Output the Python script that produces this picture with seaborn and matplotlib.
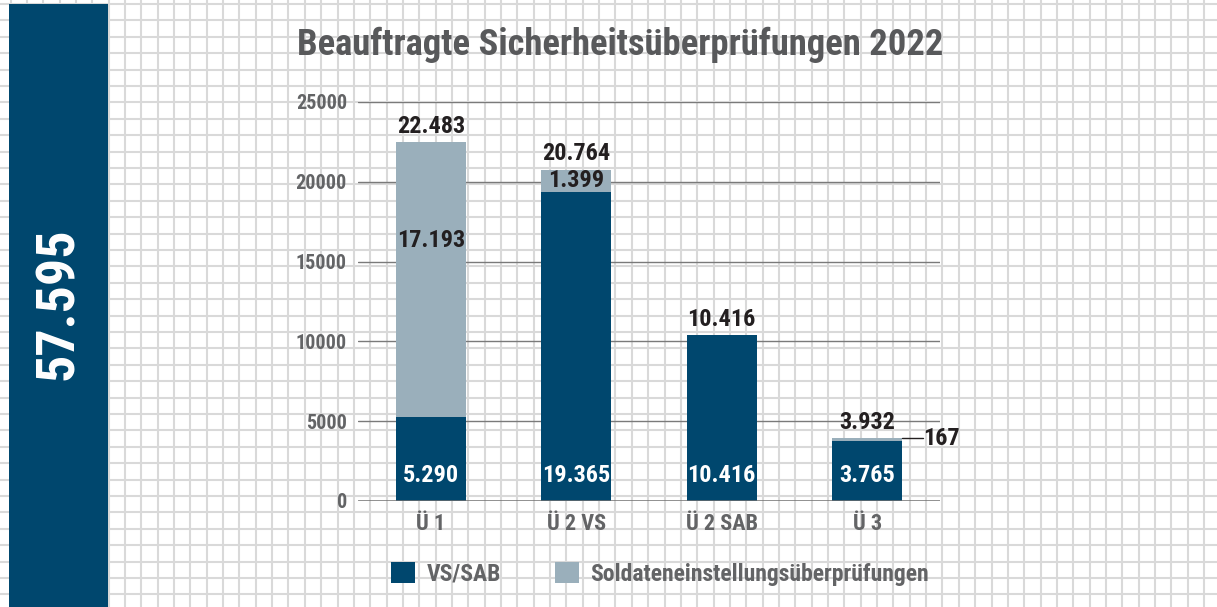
import seaborn as sns
import matplotlib.pyplot as plt
import pandas as pd
from matplotlib.patches import Rectangle, Patch

# Data
categories = ["Ü 1", "Ü 2 VS", "Ü 2 SAB", "Ü 3"]
vs_sab = [5290, 19365, 10416, 3765]
soldaten = [17193, 1399, 0, 167]
series_names = ["VS/SAB", "Soldateneinstellungsüberprüfungen"]
title = "Beauftragte Sicherheitsüberprüfungen 2022"

DARK = "#00476e"
LIGHT = "#9aafbb"
GRAY = "#636466"
INK = "#231f20"


def de(v):
    return f"{v:,}".replace(",", ".")


df = pd.DataFrame({"cat": categories, "vs": vs_sab, "sold": soldaten})
df["total"] = df["vs"] + df["sold"]
grand_total = int(df["total"].sum())

sns.set_style("white")
plt.rcParams["font.family"] = ["Roboto Condensed", "Liberation Sans Narrow", "DejaVu Sans"]
plt.rcParams["font.stretch"] = "condensed"
plt.rcParams["font.weight"] = "bold"

W, H = 1217, 607
fig = plt.figure(figsize=(W / 100, H / 100), dpi=100)

# squared paper background
bg = fig.add_axes([0, 0, 1, 1], zorder=0)
bg.set_xlim(0, W)
bg.set_ylim(H, 0)
bg.axis("off")
x = 10.5
while x < W:
    bg.axvline(x, color="#d9d9d9", lw=1.5)
    x += 16.35
y = 4
while y < H:
    bg.axhline(y, color="#d9d9d9", lw=1.5)
    y += 16.4

# left panel with grand total
fig.patches.append(Rectangle((9 / W, 0), 99 / W, 1 - 4 / H, transform=fig.transFigure,
                             facecolor=DARK, edgecolor="none", zorder=1))
fig.text(59 / W, 1 - 304 / H, de(grand_total), rotation=90, color="white",
         fontsize=39, fontweight="bold", ha="center", va="center", zorder=2)

ax = fig.add_axes([358 / W, 1 - 501 / H, (940 - 358) / W, (501 - 102) / H], zorder=2)
ax.patch.set_alpha(0)

sns.barplot(data=df, x="cat", y="total", color=LIGHT, width=0.48, saturation=1,
            linewidth=0, ax=ax, zorder=3)
sns.barplot(data=df, x="cat", y="vs", color=DARK, width=0.48, saturation=1,
            linewidth=0, ax=ax, zorder=3)

ax.set_xlim(-0.5, 3.5)
ax.set_ylim(0, 25000)
ax.set_yticks([0, 5000, 10000, 15000, 20000, 25000])
for t in [5000, 10000, 15000, 20000, 25000]:
    ax.axhline(t, color="#7a7a7a", lw=1, zorder=1)
ax.axhline(0, color="#707070", lw=1.8, zorder=4)
for s in ax.spines.values():
    s.set_visible(False)
ax.tick_params(axis="both", length=0, colors=GRAY, labelsize=14.5)
ax.tick_params(axis="y", pad=8)
ax.tick_params(axis="x", pad=9, labelsize=16)
ax.set_xlabel("")
ax.set_ylabel("")

for i, row in df.iterrows():
    ax.annotate(de(row["total"]), (i, row["total"]), xytext=(0, 3), textcoords="offset points",
                ha="center", va="bottom", fontsize=17.5, fontweight="bold", color=INK, zorder=5)
    ax.text(i, 1570, de(row["vs"]), ha="center", va="center", fontsize=17.5,
            fontweight="bold", color="white", zorder=5)

ax.text(0, 16350, de(soldaten[0]), ha="center", va="center", fontsize=17.5,
        fontweight="bold", color=INK, zorder=5)
ax.text(1, vs_sab[1] + soldaten[1] / 2, de(soldaten[1]), ha="center", va="center",
        fontsize=17.5, fontweight="bold", color=INK, zorder=5)
# small segment with leader line
ax.plot([3.24, 3.38], [df["total"][3], df["total"][3]], color=INK, lw=1, zorder=5)
ax.text(3.385, df["total"][3], de(soldaten[3]), ha="left", va="center", fontsize=17.5,
        fontweight="bold", color=INK, zorder=5)

fig.text(297 / W, 1 - 45 / H, title, ha="left", va="center", fontsize=26.4,
         fontweight="bold", color="#58595b", zorder=3)

handles = [Patch(facecolor=DARK, edgecolor="none"), Patch(facecolor=LIGHT, edgecolor="none")]
leg = fig.legend(handles, series_names, loc="center", bbox_to_anchor=(660 / W, 1 - 574 / H),
                 ncol=2, frameon=False, fontsize=17, handlelength=1.0, handleheight=1.0,
                 columnspacing=2.3, handletextpad=0.5)
for t in leg.get_texts():
    t.set_color(GRAY)
    t.set_fontweight("bold")

fig.savefig("out.png", dpi=100)
